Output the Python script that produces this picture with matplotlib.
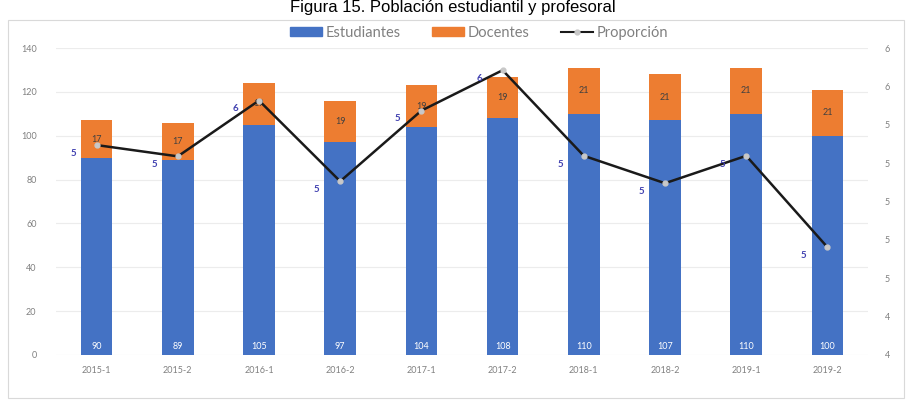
import matplotlib
matplotlib.use("Agg")
import matplotlib.pyplot as plt
from matplotlib.patches import Patch, Rectangle
from matplotlib.lines import Line2D
import numpy as np

# Datos por periodo
periodos = ['2015-1', '2015-2', '2016-1', '2016-2', '2017-1',
            '2017-2', '2018-1', '2018-2', '2019-1', '2019-2']
estudiantes = [90, 89, 105, 97, 104, 108, 110, 107, 110, 100]
docentes = [17, 17, 19, 19, 19, 19, 21, 21, 21, 21]

# Proporcion estudiantes por docente
proporcion = [e / d for e, d in zip(estudiantes, docentes)]

azul = '#4472C4'
naranja = '#ED7D31'
gris = '#808080'

plt.rcParams['font.family'] = ['Lato', 'DejaVu Sans']

fig = plt.figure(figsize=(9.06, 4.07), dpi=100)

# marco del grafico
fig.patches.append(Rectangle((8 / 906, 9 / 407), 896 / 906, 378 / 407,
                             transform=fig.transFigure, fill=False,
                             edgecolor='#d9d9d9', linewidth=0.8))

fig.text(0.5, 0.999, 'Figura 15. Población estudiantil y profesoral',
         ha='center', va='top', fontsize=12, family='Liberation Sans')

ax = fig.add_axes([56 / 906, 52 / 407, 812 / 906, 307 / 407])
x = np.arange(len(periodos))
ancho = 0.39

ax.bar(x, estudiantes, ancho, color=azul, zorder=2)
ax.bar(x, docentes, ancho, bottom=estudiantes, color=naranja, zorder=2)

for xi, e, d in zip(x, estudiantes, docentes):
    ax.annotate(str(e), (xi, 0), xytext=(0, 3), textcoords='offset points',
                ha='center', va='bottom', color='white', fontsize=6.5)
    ax.text(xi, e + d / 2, str(d), ha='center', va='center',
            color='#404040', fontsize=6.5)

ax.set_xlim(-0.5, len(periodos) - 0.5)
ax.set_ylim(0, 140)
ax.set_yticks(range(0, 141, 20))
ax.set_xticks(x)
ax.set_xticklabels(periodos)
ax.tick_params(axis='both', length=0, colors=gris, labelsize=6.5)
ax.tick_params(axis='x', pad=8)
ax.tick_params(axis='y', pad=14)
ax.grid(axis='y', color='#ececec', linewidth=0.8, zorder=0)
for s in ax.spines.values():
    s.set_visible(False)

# eje secundario para la proporcion
ax2 = ax.twinx()
ax2.plot(x, proporcion, color='#1a1a1a', linewidth=1.8, marker='o',
         markersize=3.5, markerfacecolor='#c8c8c8', markeredgecolor='#c8c8c8',
         zorder=3)
for xi, p in zip(x, proporcion):
    ax2.annotate(f'{p:.0f}', (xi, p), xytext=(-17, -6), textcoords='offset points',
                 ha='center', va='center', color='#4040b0', fontsize=7,
                 fontweight='bold')
ax2.set_ylim(4.2, 5.8)
ax2.set_yticks(np.arange(4.2, 5.81, 0.2))
ax2.set_yticklabels([f'{v:.0f}' for v in np.arange(4.2, 5.81, 0.2)])
ax2.tick_params(axis='y', length=0, colors=gris, labelsize=6.5, pad=12)
for s in ax2.spines.values():
    s.set_visible(False)

handles = [Patch(color=azul), Patch(color=naranja),
           Line2D([], [], color='#1a1a1a', linewidth=1.5, marker='o',
                  markersize=3.5, markerfacecolor='#c8c8c8',
                  markeredgecolor='#c8c8c8')]
fig.legend(handles, ['Estudiantes', 'Docentes', 'Proporción'],
           loc='center', bbox_to_anchor=(479 / 906, 1 - 33 / 407), ncol=3,
           frameon=False, fontsize=10.5, labelcolor=gris, handlelength=2.2,
           handleheight=0.6, handletextpad=0.2, columnspacing=2.2)

fig.savefig('out.png', dpi=100)
